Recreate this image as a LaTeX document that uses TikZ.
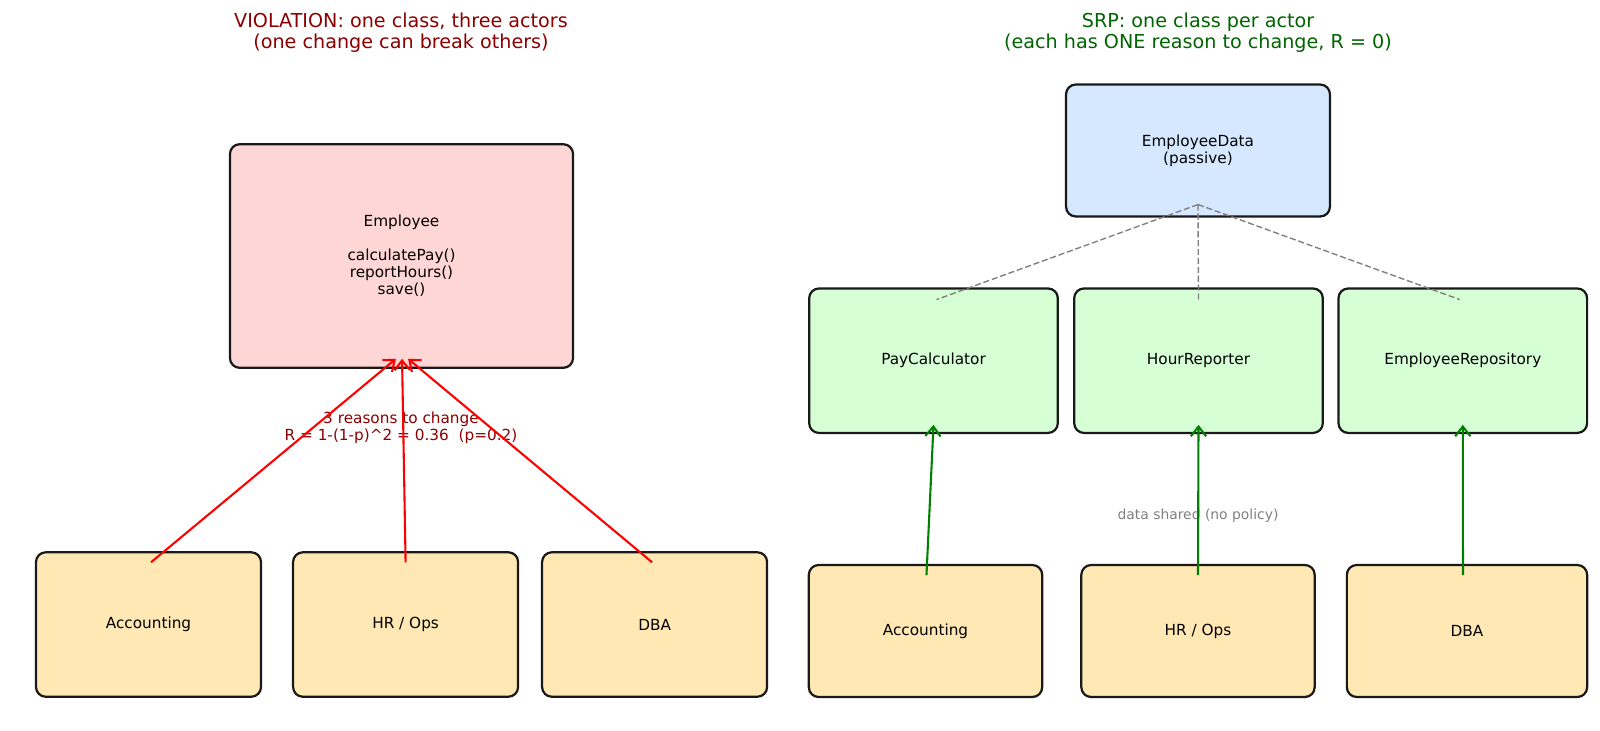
\documentclass[tikz,border=0pt]{standalone}
\usepackage{fontspec}
\setmainfont{DejaVu Sans}
\usepackage{tikz}
\usetikzlibrary{arrows.meta,positioning,calc}
\definecolor{violred}{HTML}{8B0000}
\definecolor{srpgreen}{HTML}{006400}
\definecolor{classpink}{HTML}{FFD6D6}
\definecolor{classblue}{HTML}{D6E8FF}
\definecolor{classgreen}{HTML}{D6FFD6}
\definecolor{actorsand}{HTML}{FFE8B3}
\definecolor{arrowgreen}{HTML}{008000}
\tikzset{
  umlbox/.style={
    rounded corners=7pt,
    draw=black!90,
    line width=1.6pt,
    inner sep=0pt,
    outer sep=0pt,
    align=center,
    font=\fontsize{11}{12.2}\selectfont
  },
  godclass/.style={umlbox, fill=classpink, minimum width=247pt, minimum height=161pt},
  dataclass/.style={umlbox, fill=classblue, minimum width=190pt, minimum height=95pt},
  srpclass/.style={umlbox, fill=classgreen, minimum width=179pt, minimum height=104pt},
  actorbox/.style={umlbox, fill=actorsand, minimum width=162pt, minimum height=104pt},
  ractorbox/.style={umlbox, fill=actorsand, minimum width=168pt, minimum height=95pt},
  badarrow/.style={
    -{Straight Barb[length=7pt,width=11pt]},
    line width=1.5pt,
    draw=red
  },
  goodarrow/.style={
    -{Straight Barb[length=7pt,width=11pt]},
    line width=1.5pt,
    draw=arrowgreen
  },
  sharedline/.style={dashed, dash pattern=on 4.4pt off 2pt, line width=1pt, draw=gray}
}

\begin{document}
\begin{tikzpicture}[x=0.72pt, y=-0.72pt]
  \useasboundingbox (0,0) rectangle (1600,730);
  % left: one class, three actors
  \node[align=center, text=violred, font=\fontsize{13.8}{14.9}\selectfont] (badtitle) at (401,32.5) {VIOLATION: one class, three actors\\(one change can break others)};
  \node[godclass] (emp) at (401.5,256) {Employee\\[12.2pt]calculatePay()\\reportHours()\\save()};
  \node[actorbox] (accL) at (148.5,624.5) {Accounting};
  \node[actorbox] (hrL) at (405.6,624.5) {HR / Ops};
  \node[actorbox] (dbaL) at (654.6,624.5) {DBA};
  \node[align=center, text=violred, font=\fontsize{11}{11.9}\selectfont] (reasons) at (401,428) {3 reasons to change\\R = 1-(1-p)\textasciicircum2 = 0.36\ \ (p=0.2)};
  \foreach \a/\dx/\ex in {accL/1.8pt/-4pt,hrL/0pt/0.4pt,dbaL/-1.8pt/4.7pt} {
    \draw[badarrow] ([xshift=\dx, yshift=-7.2pt]\a.north) -- ([xshift=\ex, yshift=6.5pt]emp.south);
  }
  % right: one class per actor
  \node[align=center, text=srpgreen, font=\fontsize{13.8}{14.9}\selectfont] (goodtitle) at (1198,32.5) {SRP: one class per actor\\(each has ONE reason to change, R = 0)};
  \node[dataclass] (data) at (1198,150.5) {EmployeeData\\(passive)};
  \node[srpclass] (pay) at (933.5,360.7) {PayCalculator};
  \node[srpclass] (hour) at (1198.5,360.7) {HourReporter};
  \node[srpclass] (repo) at (1462.8,360.7) {EmployeeRepository};
  \node[ractorbox] (accR) at (925.5,631) {Accounting};
  \node[ractorbox] (hrR) at (1198,631) {HR / Ops};
  \node[ractorbox, minimum width=173pt] (dbaR) at (1467,631) {DBA};
  \node[text=gray, font=\fontsize{10}{11.9}\selectfont] (shared) at (1198,516) {data shared (no policy)};
  \foreach \b/\dx in {pay/2.2pt,hour/0pt,repo/-2.2pt} {
    \draw[sharedline] ([yshift=8.6pt]data.south) -- ([xshift=\dx, yshift=-8pt]\b.north);
  }
  \foreach \a/\b/\dx in {accR/pay/0.7pt,hrR/hour/0pt,dbaR/repo/-2.9pt} {
    \draw[goodarrow] ([xshift=\dx, yshift=-7.2pt]\a.north) -- ([yshift=5.8pt]\b.south);
  }
\end{tikzpicture}
\end{document}
